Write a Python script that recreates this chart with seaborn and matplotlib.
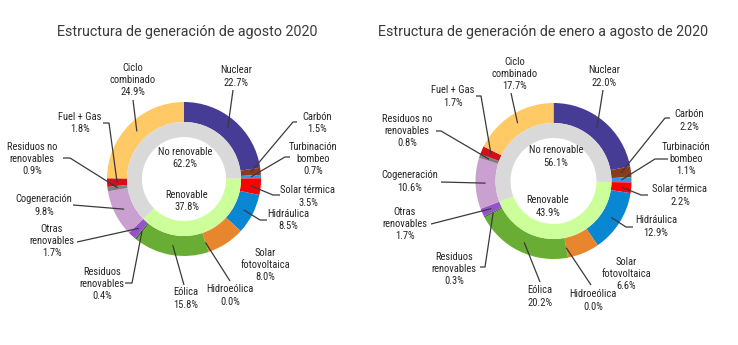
import matplotlib
matplotlib.use("Agg")
import matplotlib.pyplot as plt
import seaborn as sns
import numpy as np
import pandas as pd
from matplotlib import font_manager

# ---------------- data ----------------
categories = ["Nuclear", "Carbón", "Turbinación\nbombeo", "Solar térmica", "Hidráulica",
              "Solar\nfotovoltaica", "Hidroeólica", "Eólica", "Residuos\nrenovables",
              "Otras\nrenovables", "Cogeneración", "Residuos no\nrenovables", "Fuel + Gas",
              "Ciclo\ncombinado"]
renewable = [False, False, False, True, True, True, True, True, True, True,
             False, False, False, False]
agosto_values = [22.7, 1.5, 0.7, 3.5, 8.5, 8.0, 0.0, 15.8, 0.4, 1.7, 9.8, 0.9, 1.8, 24.9]
enero_agosto_values = [22.0, 2.2, 1.1, 2.2, 12.9, 6.6, 0.0, 20.2, 0.3, 1.7, 10.6, 0.8, 1.7, 17.7]
inner_labels = ["Renovable", "No renovable"]
agosto_inner = [37.8, 62.2]
enero_agosto_inner = [43.9, 56.1]
titles = ["Estructura de generación de agosto 2020",
          "Estructura de generación de enero a agosto de 2020"]

# ---------------- style ----------------
colors = ["#463C96", "#8B3A1E", "#2E9BE6", "#FF0000", "#0A87D2", "#E8862D", "#5B8FD0",
          "#6AAD34", "#3F6E2A", "#9652C8", "#C9A0D0", "#7F7F7F", "#D0101E", "#FFC966"]
inner_colors = ["#CCFF99", "#D9D9D9"]

sns.set_theme(style="white")
available = {f.name for f in font_manager.fontManager.ttflist}
label_font = [f for f in ["Liberation Sans Narrow", "Roboto Condensed", "Roboto", "DejaVu Sans"]
              if f in available][:1] + ["DejaVu Sans"]
title_font = [f for f in ["Roboto", "Lato", "DejaVu Sans"] if f in available][:1] + ["DejaVu Sans"]
plt.rcParams["font.family"] = label_font

W, H = 738, 345
fig = plt.figure(figsize=(W / 100, H / 100), dpi=100)
ax = fig.add_axes([0, 0, 1, 1])

def P(x, y):
    """image pixel coords -> data coords"""
    return (x, H - y)

# layout (image pixel coordinates)
layouts = [
    dict(center=(184, 179), R=77, w_out=20, w_in=15, title=(187, 32),
         inner_text=[(187, 201), (185, 158)],
         labels={
             "Ciclo\ncombinado": ((133, 80), [(133, 100)]),
             "Nuclear": ((236, 76.5), [(233, 90)]),
             "Fuel + Gas": ((80, 123), [(103, 123), (109, 123)]),
             "Residuos no\nrenovables": ((32, 159), [(63, 158), (70, 158)]),
             "Cogeneración": ((44, 205.5), [(73, 205)]),
             "Otras\nrenovables": ((52, 241), [(77, 242)]),
             "Residuos\nrenovables": ((102, 284), [(125, 283), (132, 283)]),
             "Eólica": ((186, 298.5), [(184, 285)]),
             "Hidroeólica": ((230, 295.5), [(230, 281)]),
             "Solar\nfotovoltaica": ((265, 265), []),
             "Hidráulica": ((288, 220), [(267, 220), (260, 220)]),
             "Solar térmica": ((308, 196.5), [(280, 195), (273, 195)]),
             "Turbinación\nbombeo": ((313, 159), [(290, 157), (285, 157)]),
             "Carbón": ((317, 123), [(297, 122), (293, 122)]),
         }),
    dict(center=(553.5, 181), R=78, w_out=20, w_in=15, title=(543, 32),
         inner_text=[(548, 206.5), (556, 156.5)],
         labels={
             "Ciclo\ncombinado": ((515, 74), [(511, 93)]),
             "Nuclear": ((604, 76.5), [(603, 90)]),
             "Fuel + Gas": ((453, 96.5), [(476, 96), (481, 96)]),
             "Residuos no\nrenovables": ((407, 131), [(436, 131), (441, 131)]),
             "Cogeneración": ((410, 181.5), [(441, 182)]),
             "Otras\nrenovables": ((405, 224), [(431, 224)]),
             "Residuos\nrenovables": ((454, 269), [(480, 267), (485, 267)]),
             "Eólica": ((540, 296.5), [(540, 282)]),
             "Hidroeólica": ((593, 300.5), [(591, 285)]),
             "Solar\nfotovoltaica": ((626, 274), []),
             "Hidráulica": ((656, 226.5), [(633, 227), (626, 227)]),
             "Solar térmica": ((680, 195.5), [(648, 195), (641, 195)]),
             "Turbinación\nbombeo": ((686, 159), [(668, 159), (655, 159)]),
             "Carbón": ((689, 120.5), [(670, 118), (665, 118)]),
         }),
]

datasets = [(agosto_values, agosto_inner), (enero_agosto_values, enero_agosto_inner)]
palette = sns.color_palette(colors)
txt_color = "#262626"
line_color = "#3A3A3A"

for (vals, inner_vals), lay, title in zip(datasets, layouts, titles):
    df = pd.DataFrame({"cat": categories, "val": vals, "ren": renewable})
    c = P(*lay["center"])
    R = lay["R"]
    wedges, _ = ax.pie(df["val"], colors=palette, startangle=90, counterclock=False,
                       radius=R, center=c,
                       wedgeprops=dict(width=lay["w_out"], linewidth=0))
    # inner ring aligned with the first renewable wedge
    first_ren = int(np.argmax(df["ren"].values))
    offset = df["val"].iloc[:first_ren].sum() / df["val"].sum() * 360
    r_in = R - lay["w_out"]
    ax.pie(inner_vals, colors=inner_colors, startangle=90 - offset, counterclock=False,
           radius=r_in, center=c, wedgeprops=dict(width=lay["w_in"], linewidth=0))

    # inner texts
    for lbl, v, pos in zip(inner_labels, inner_vals, lay["inner_text"]):
        ax.text(*P(*pos), f"{lbl}\n{v:.1f}%", ha="center", va="center",
                fontsize=7.6, color=txt_color, linespacing=1.3)

    # outer labels + leader lines
    r_mid = R - lay["w_out"] / 2
    for wedge, cat, v in zip(wedges, categories, vals):
        tpos, path = lay["labels"][cat]
        ax.text(*P(*tpos), f"{cat}\n{v:.1f}%", ha="center", va="center",
                fontsize=7.6, color=txt_color, linespacing=1.3)
        if path:
            th = np.deg2rad((wedge.theta1 + wedge.theta2) / 2)
            tip = (c[0] + r_mid * np.cos(th), c[1] + r_mid * np.sin(th))
            pts = [P(*p) for p in path] + [tip]
            xs, ys = zip(*pts)
            ax.plot(xs, ys, color=line_color, lw=0.9, solid_capstyle="butt")

    ax.text(*P(*lay["title"]), title, ha="center", va="center", fontsize=10.3,
            color="#3A3A3A", family=title_font)

ax.set_xlim(0, W)
ax.set_ylim(0, H)
ax.set_aspect("equal")
ax.axis("off")
fig.savefig("out.png", dpi=100, facecolor="white")
